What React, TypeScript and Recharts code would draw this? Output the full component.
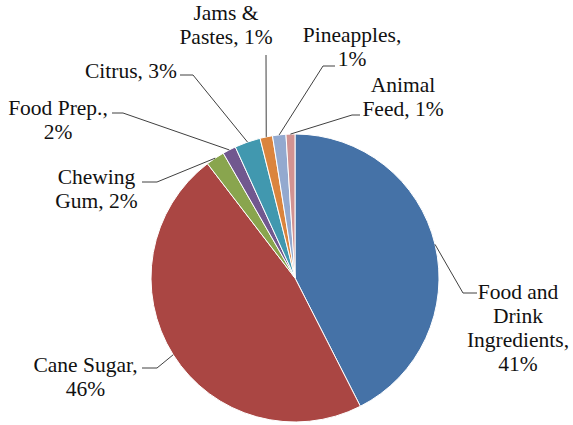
import React from "react";
import { PieChart, Pie, Cell } from "recharts";

// slice shares (clockwise from 12 o'clock)
const categories = [
  "Food and Drink Ingredients",
  "Cane Sugar",
  "Chewing Gum",
  "Food Prep.",
  "Citrus",
  "Jams & Pastes",
  "Pineapples",
  "Animal Feed",
];
const shares = [42.5, 47.1, 2.1, 1.5, 2.9, 1.4, 1.5, 1.0];
const labelLines = [
  ["Food and", "Drink", "Ingredients,", "41%"],
  ["Cane Sugar,", "46%"],
  ["Chewing", "Gum, 2%"],
  ["Food Prep.,", "2%"],
  ["Citrus, 3%"],
  ["Jams &", "Pastes, 1%"],
  ["Pineapples,", "1%"],
  ["Animal", "Feed, 1%"],
];
const colors = ["#4572A7", "#AA4643", "#89A54E", "#71588F", "#4198AF", "#DB843D", "#93A9CF", "#D19392"];

// label placement: leader elbow, leader end, text centre x, first line centre y
const labelLayout = [
  { elbow: [463, 293], end: [477, 293], tx: 518, ty: 292 },
  { elbow: [157, 368], end: [142, 368], tx: 85.5, ty: 365 },
  { elbow: [157, 182], end: [142, 182], tx: 96.5, ty: 177 },
  { elbow: [123, 113], end: [112, 113], tx: 58, ty: 108 },
  { elbow: [193, 75], end: [180, 75], tx: 131, ty: 71 },
  { elbow: [266, 55], end: [266, 55], tx: 226, ty: 13 },
  { elbow: [323, 66], end: [335, 66], tx: 352, ty: 35 },
  { elbow: [352, 115], end: [360, 115], tx: 403, ty: 85 },
];

const data = categories.map((name, i) => ({ name, value: shares[i] }));

const RAD = Math.PI / 180;
const textStyle = { fontFamily: "Liberation Serif", fontSize: "21.5px", fill: "#111" };

function renderLabel(props: any) {
  const { cx, cy, midAngle, outerRadius, index } = props;
  const lay = labelLayout[index];
  const sx = cx + outerRadius * Math.cos(-midAngle * RAD);
  const sy = cy + outerRadius * Math.sin(-midAngle * RAD);
  const lines = labelLines[index];
  return (
    <g key={"lbl" + index}>
      <polyline
        points={`${sx},${sy} ${lay.elbow[0]},${lay.elbow[1]} ${lay.end[0]},${lay.end[1]}`}
        fill="none"
        stroke="#404040"
        strokeWidth={1}
      />
      <text x={lay.tx} y={lay.ty + 7} textAnchor="middle" style={textStyle}>
        {lines.map((l, j) => (
          <tspan key={j} x={lay.tx} dy={j === 0 ? 0 : 24}>
            {l}
          </tspan>
        ))}
      </text>
    </g>
  );
}

export default function App() {
  return (
    <div style={{ width: 573, height: 425, background: "#fff" }}>
      <style>{`body{margin:0}`}</style>
      <PieChart width={573} height={425} margin={{ top: 0, right: 0, bottom: 0, left: 0 }}>
        <Pie
          data={data}
          dataKey="value"
          nameKey="name"
          cx={295}
          cy={278}
          outerRadius={144}
          startAngle={90}
          endAngle={-270}
          stroke="#fff"
          strokeWidth={1}
          labelLine={false}
          label={renderLabel}
          isAnimationActive={false}
        >
          {data.map((d, i) => (
            <Cell key={d.name} fill={colors[i]} />
          ))}
        </Pie>
      </PieChart>
    </div>
  );
}
